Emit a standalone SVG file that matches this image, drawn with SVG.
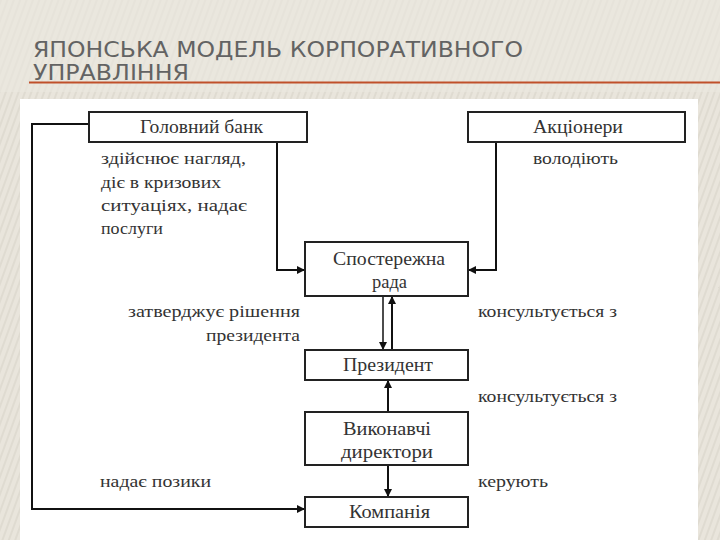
<svg xmlns="http://www.w3.org/2000/svg" width="720" height="540" viewBox="0 0 720 540">
<defs>
<pattern id="stripes" width="6" height="6" patternUnits="userSpaceOnUse" patternTransform="rotate(20)">
<rect width="6" height="6" fill="#e9e5dc"/>
<rect width="2" height="6" fill="#dfdbd1"/>
</pattern>
<marker id="arr" viewBox="0 0 10 10" refX="10" refY="5" markerWidth="10" markerHeight="8" markerUnits="userSpaceOnUse" orient="auto">
<path d="M0,0 L10,5 L0,10 z" fill="#111"/>
</marker>
</defs>
<style>
.box{fill:#fff;stroke:#222;stroke-width:2}
.lbl{font-family:"Liberation Serif","DejaVu Serif",serif;font-size:18px;fill:#333}
.note{font-family:"Liberation Serif","DejaVu Serif",serif;font-size:17px;fill:#333}
.ln{fill:none;stroke:#111;stroke-width:2}
.title{font-family:"DejaVu Sans","Open Sans",sans-serif;font-size:21px;fill:#636363}
</style>
<rect width="720" height="540" fill="url(#stripes)"/>
<rect x="0" y="0" width="720" height="92" fill="#ebe8e0" opacity="0.6"/>
<text class="title" x="33" y="57" textLength="490" lengthAdjust="spacingAndGlyphs">ЯПОНСЬКА МОДЕЛЬ КОРПОРАТИВНОГО</text>
<text class="title" x="33" y="80" textLength="156" lengthAdjust="spacingAndGlyphs">УПРАВЛІННЯ</text>
<line x1="29" y1="82.5" x2="720" y2="82.5" stroke="#c0502a" stroke-width="1.8"/>
<rect x="20" y="99" width="678" height="441" fill="#fff"/>
<g id="connectors">
<polyline class="ln" points="89,124 32,124 32,509 305,509" marker-end="url(#arr)"/>
<polyline class="ln" points="277,142 277,270 305,270" marker-end="url(#arr)"/>
<polyline class="ln" points="496,142 496,270 468,270" marker-end="url(#arr)"/>
<line class="ln" x1="383" y1="296" x2="383" y2="350" marker-end="url(#arr)" style="stroke-width:1.5"/>
<line class="ln" x1="392" y1="350" x2="392" y2="296" marker-end="url(#arr)"/>
<line class="ln" x1="388" y1="412" x2="388" y2="380" marker-end="url(#arr)"/>
<line class="ln" x1="388" y1="465" x2="388" y2="497" marker-end="url(#arr)"/>
</g>
<g id="bank">
<rect class="box" x="89" y="112" width="218" height="30"/>
<text class="lbl" x="140" y="133" textLength="123" lengthAdjust="spacingAndGlyphs">Головний банк</text>
</g>
<g id="shareholders">
<rect class="box" x="468" y="112" width="217" height="30"/>
<text class="lbl" x="533" y="133" textLength="90" lengthAdjust="spacingAndGlyphs">Акціонери</text>
</g>
<g id="board">
<rect class="box" x="305" y="242" width="163" height="54"/>
<text class="lbl" x="333" y="265" textLength="112" lengthAdjust="spacingAndGlyphs">Спостережна</text>
<text class="lbl" x="372" y="288" textLength="35" lengthAdjust="spacingAndGlyphs">рада</text>
</g>
<g id="president">
<rect class="box" x="305" y="350" width="163" height="30"/>
<text class="lbl" x="343" y="371" textLength="90" lengthAdjust="spacingAndGlyphs">Президент</text>
</g>
<g id="directors">
<rect class="box" x="305" y="412" width="163" height="53"/>
<text class="lbl" x="343" y="435" textLength="88" lengthAdjust="spacingAndGlyphs">Виконавчі</text>
<text class="lbl" x="341" y="458" textLength="92" lengthAdjust="spacingAndGlyphs">директори</text>
</g>
<g id="company">
<rect class="box" x="305" y="497" width="163" height="30"/>
<text class="lbl" x="349" y="518" textLength="81" lengthAdjust="spacingAndGlyphs">Компанія</text>
</g>
<g id="labels">
<text class="note" x="101" y="164" textLength="145" lengthAdjust="spacingAndGlyphs">здійснює нагляд,</text>
<text class="note" x="101" y="188" textLength="120" lengthAdjust="spacingAndGlyphs">діє в кризових</text>
<text class="note" x="101" y="211" textLength="146" lengthAdjust="spacingAndGlyphs">ситуаціях, надає</text>
<text class="note" x="101" y="234" textLength="62" lengthAdjust="spacingAndGlyphs">послуги</text>
<text class="note" x="533" y="164" textLength="85" lengthAdjust="spacingAndGlyphs">володіють</text>
<text class="note" x="128" y="317" textLength="172" lengthAdjust="spacingAndGlyphs">затверджує рішення</text>
<text class="note" x="206" y="341" textLength="94" lengthAdjust="spacingAndGlyphs">президента</text>
<text class="note" x="478" y="317" textLength="139" lengthAdjust="spacingAndGlyphs">консультується з</text>
<text class="note" x="478" y="402" textLength="139" lengthAdjust="spacingAndGlyphs">консультується з</text>
<text class="note" x="100" y="487" textLength="111" lengthAdjust="spacingAndGlyphs">надає позики</text>
<text class="note" x="478" y="487" textLength="70" lengthAdjust="spacingAndGlyphs">керують</text>
</g>
</svg>
